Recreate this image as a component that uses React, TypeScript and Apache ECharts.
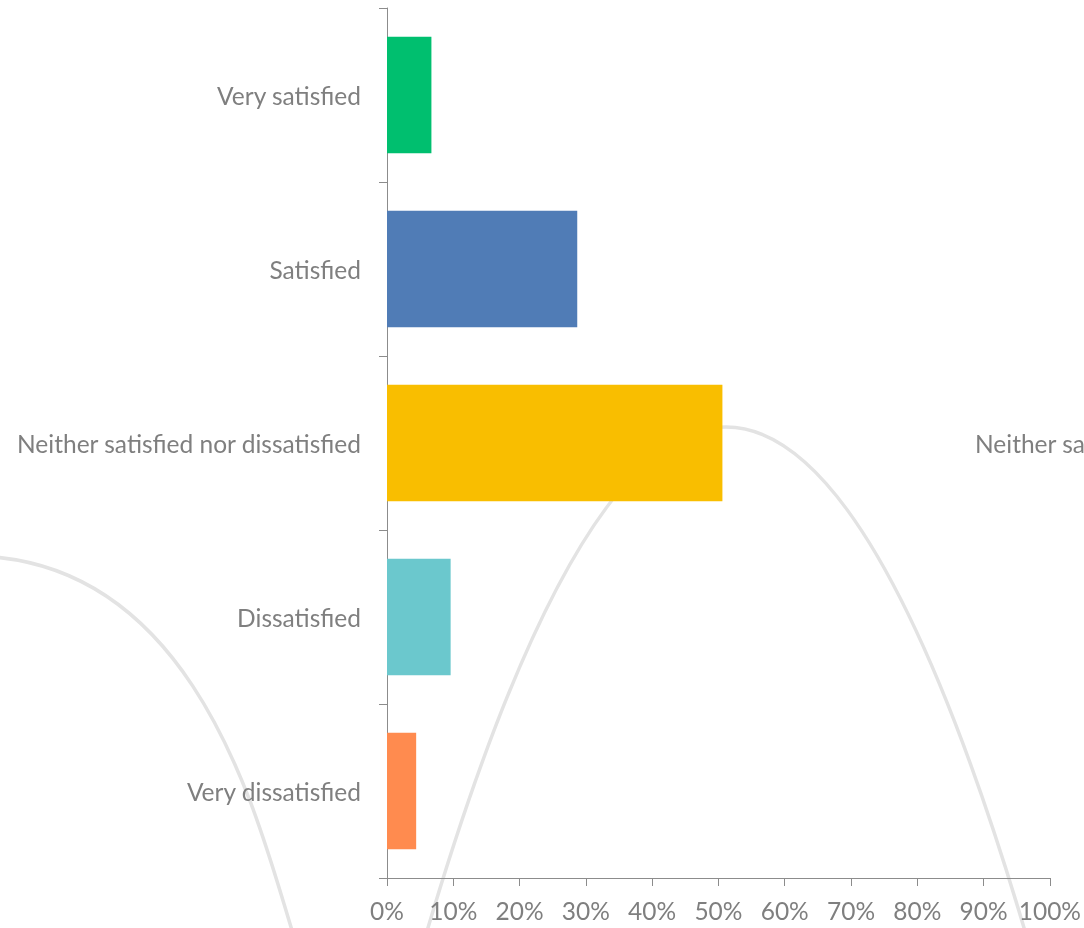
import React, { useEffect, useRef } from "react";
import * as echarts from "echarts";

const categories = [
  "Very satisfied",
  "Satisfied",
  "Neither satisfied nor dissatisfied",
  "Dissatisfied",
  "Very dissatisfied",
];
const values = [6.7, 28.7, 50.6, 9.6, 4.4];
const barColors = ["#00BF6F", "#507CB6", "#F9BE00", "#6BC8CD", "#FF8B4F"];
const xTicks = { min: 0, max: 100, interval: 10 };

// decorative background curve (screen-space SVG path)
const curvePath = "M-30 556 C200 556 260 830 295 940 M420 955 Q726 -101 1032 955";
echarts.graphic.registerShape("bgcurve", echarts.graphic.extendPath(curvePath, {}));

const FONT = "Lato";
const GREY = "#7f7f7f";
const FS = 24.5;

export default function App() {
  const ref = useRef<HTMLDivElement>(null);
  useEffect(() => {
    document.body.style.margin = "0";
    const chart = echarts.init(ref.current!, undefined, { renderer: "svg" });
    chart.setOption({
      animation: false,
      grid: { left: 387, right: 33, top: 8, bottom: 50, containLabel: false },
      xAxis: {
        type: "value",
        min: xTicks.min,
        max: xTicks.max,
        interval: xTicks.interval,
        splitLine: { show: false },
        axisLine: { show: true, lineStyle: { color: "#8c8c8c", width: 1 } },
        axisTick: { show: true, length: 8, lineStyle: { color: "#8c8c8c" } },
        axisLabel: {
          formatter: "{value}%",
          color: GREY,
          fontFamily: FONT,
          fontSize: FS,
          margin: 20,
        },
      },
      yAxis: {
        type: "category",
        inverse: true,
        data: categories,
        axisLine: { show: true, lineStyle: { color: "#8c8c8c", width: 1 } },
        axisTick: { show: true, length: 8, lineStyle: { color: "#8c8c8c" } },
        axisLabel: { color: GREY, fontFamily: FONT, fontSize: FS, margin: 26 },
      },
      graphic: [
        {
          type: "bgcurve",
          silent: true,
          z: -10,
          x: 0,
          y: 0,
          scaleX: 1,
          scaleY: 1,
          style: { stroke: "#e3e3e3", lineWidth: 3.5, fill: null },
        },
        {
          type: "text",
          x: 975,
          y: 443,
          style: {
            text: "Neither satisfied nor dissatisfied",
            fill: GREY,
            font: `${FS}px ${FONT}`,
            textVerticalAlign: "middle",
            verticalAlign: "middle",
          },
        },
      ],
      series: [
        {
          type: "bar",
          barCategoryGap: "33%",
          z: 5,
          data: values.map((v, i) => ({ value: v, itemStyle: { color: barColors[i] } })),
        },
      ],
    });
    return () => chart.dispose();
  }, []);
  return <div ref={ref} style={{ position: "fixed", left: 0, top: 0, width: 1084, height: 928 }} />;
}
